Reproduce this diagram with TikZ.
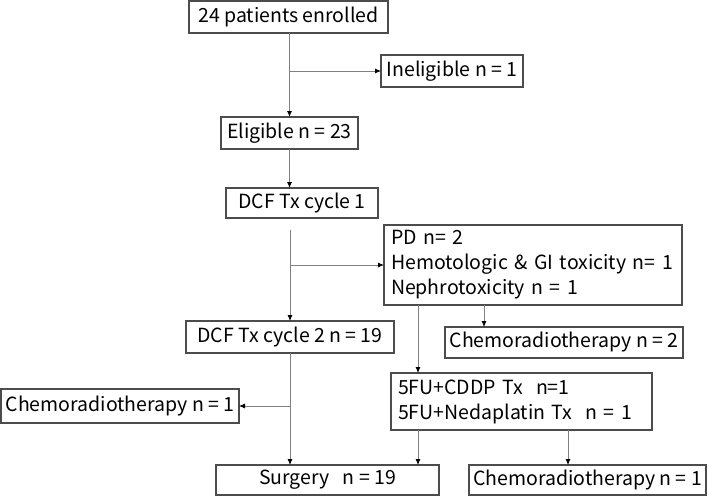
\documentclass[tikz,border=0pt]{standalone}
\usepackage{fontspec}
\setmainfont{Noto Sans CJK JP}
\usetikzlibrary{arrows.meta}
\definecolor{boxc}{gray}{0.3}
\definecolor{linec}{gray}{0.5}
\begin{document}
\begin{tikzpicture}[x=1pt,y=-1pt,
  box/.style={draw=boxc, line width=1.1pt, inner sep=0pt, outer sep=0pt, font=\fontsize{19.5}{25}\selectfont},
  lbox/.style={box, align=left, inner xsep=7pt},
  conn/.style={draw=linec, line width=0.8pt},
  arr/.style={conn, -{Latex[length=6pt,width=5pt,color=black]}}]
\useasboundingbox (0,0) rectangle (709,496);
\node[box, minimum width=199pt, minimum height=32pt] (A) at (288.5,17) {24 patients enrolled};
\node[box, minimum width=142pt, minimum height=32pt] (B) at (452,71) {Ineligible n = 1};
\node[box, minimum width=137pt, minimum height=32pt] (C) at (289.5,133) {Eligible n = 23};
\node[box, minimum width=152pt, minimum height=30pt] (D) at (302,203) {DCF Tx cycle 1};
\node[lbox, text width=284pt, minimum height=80pt] (E) at (533,265) {PD n= 2\\Hemotologic \& GI toxicity n= 1\\Nephrotoxicity n = 1};
\node[box, minimum width=208pt, minimum height=32pt] (F) at (290,337) {DCF Tx cycle 2 n = 19};
\node[box, minimum width=238pt, minimum height=31pt] (G) at (564,342.5) {Chemoradiotherapy n = 2};
\node[lbox, text width=247pt, minimum height=57pt] (H) at (521.5,401.5) {5FU+CDDP Tx\ \ n=1\\5FU+Nedaplatin Tx\ \ n = 1};
\node[box, minimum width=238pt, minimum height=34pt] (I) at (120,406) {Chemoradiotherapy n = 1};
\node[box, minimum width=223pt, minimum height=30pt] (J) at (327.5,480) {Surgery\ \ \ n = 19};
\node[box, minimum width=237pt, minimum height=30pt] (K) at (587.5,480) {Chemoradiotherapy n = 1};
% connectors
\draw[arr] (C.north |- A.south) -- (C.north);
\draw[arr] (C.north |- B.west) -- (B.west);
\draw[arr] (C.south) -- (C.south |- D.north);
\coordinate (d1) at (290,230);
\draw[arr] (d1) -- (d1 |- F.north);
\draw[arr] (d1 |- E.west) -- (E.west);
\draw[arr] (F.south) -- (F.south |- J.north);
\draw[arr] (F.south |- I.east) -- (I.east);
\coordinate (e1) at ([xshift=-115pt]E.south);
\coordinate (e2) at ([xshift=-49pt]E.south);
\draw[arr] (e1) -- (e1 |- H.north);
\draw[arr] (e2) -- (e2 |- G.north);
\coordinate (h1) at ([xshift=-103.5pt]H.south);
\coordinate (h2) at ([xshift=46.5pt]H.south);
\draw[arr] (h1) -- (h1 |- J.north);
\draw[arr] (h2) -- (h2 |- K.north);
\end{tikzpicture}
\end{document}
